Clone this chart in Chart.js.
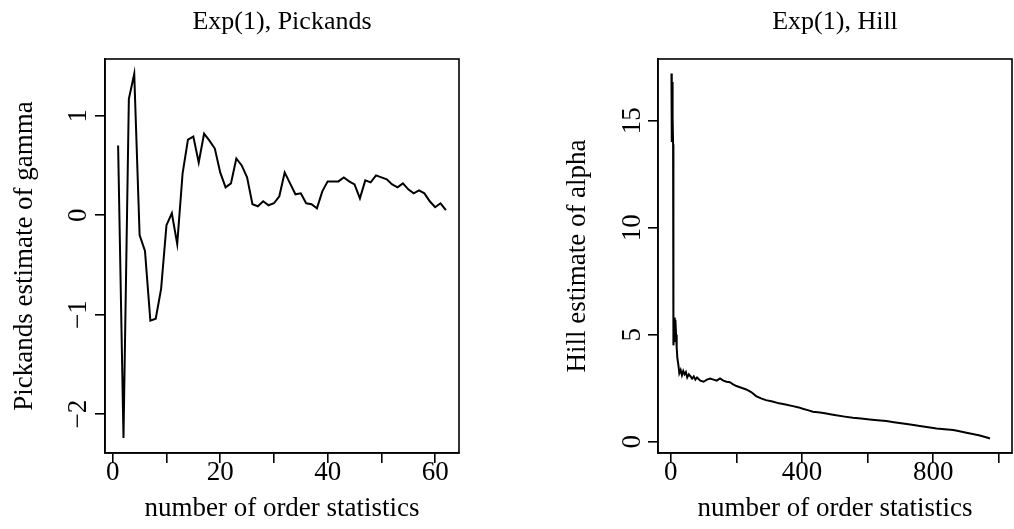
<!DOCTYPE html>
<html>
<head>
<meta charset="utf-8">
<script src="https://cdn.jsdelivr.net/npm/chart.js@4.4.1/dist/chart.umd.min.js"></script>
<style>
html, body { margin: 0; padding: 0; background: #fff; }
#wrap { position: relative; width: 1014px; height: 529px; }
.panel { position: absolute; top: 0; width: 507px; height: 529px; }
</style>
</head>
<body>
<div id="wrap">
  <div class="panel" style="left:0"><canvas id="canvas1" width="507" height="529"></canvas></div>
  <div class="panel" style="left:507px"><canvas id="canvas2" width="507" height="529"></canvas></div>
</div>
<script>
// Pickands estimates, k = number of order statistics
var pickK = [1,2,3,4,5,6,7,8,9,10,11,12,13,14,15,16,17,18,19,20,21,22,23,24,25,26,27,28,29,30,31,
             32,33,34,35,36,37,38,39,40,41,42,43,44,45,46,47,48,49,50,51,52,53,54,55,56,57,58,59,60,61,62];
var pickGamma = [0.70,-2.24,1.17,1.42,-0.20,-0.36,-1.06,-1.04,-0.74,-0.10,0.02,-0.29,0.42,0.76,0.79,0.53,
                 0.82,0.75,0.67,0.43,0.28,0.32,0.57,0.50,0.38,0.11,0.09,0.14,0.10,0.12,0.19,0.43,
                 0.32,0.21,0.22,0.12,0.11,0.07,0.24,0.34,0.34,0.34,0.38,0.34,0.31,0.17,0.35,0.33,
                 0.40,0.38,0.36,0.31,0.28,0.32,0.26,0.22,0.25,0.22,0.14,0.08,0.12,0.05];
var pickXTicks = [0,10,20,30,40,50,60];
var pickXLabels = [0,20,40,60];
var pickYTicks = [-2,-1,0,1];

// Hill estimates
var hillK = [2,3,4,5,6,7,8,10,12,13,14,16,18,20,23,26,30,34,38,42,46,50,55,60,65,70,75,80,90,100,
             110,120,130,140,150,160,170,180,190,200,215,230,245,260,275,290,310,330,350,372,390,402,
             420,433,455,474,490,504,530,555,580,606,630,657,680,708,735,759,785,810,835,861,880,901,
             920,942,958,973];
var hillAlpha = [17.2,14.0,16.8,14.3,15.2,13.9,4.5,5.0,5.8,4.7,5.7,5.0,4.4,3.9,3.6,3.2,3.35,3.1,3.3,3.15,
                 3.25,3.0,3.15,3.05,2.95,3.05,2.9,3.0,2.85,2.8,2.9,2.95,2.9,2.85,2.95,2.85,2.8,2.78,2.68,2.6,
                 2.52,2.44,2.32,2.13,2.02,1.94,1.88,1.79,1.74,1.66,1.6,1.54,1.46,1.40,1.36,1.32,1.27,1.23,
                 1.17,1.12,1.08,1.04,1.0,0.96,0.91,0.85,0.79,0.73,0.67,0.62,0.58,0.54,0.49,0.42,0.36,0.29,
                 0.22,0.15];
var hillXTicks = [0,200,400,600,800,1000];
var hillXLabels = [0,400,800];
var hillYTicks = [0,5,10,15];

var FONT = '"Liberation Serif", "DejaVu Serif", serif';
var font = {family: FONT, size: 27, lineHeight: 1};

function points(xs, ys) {
    return xs.map(function (x, i) { return {x: x, y: ys[i]}; });
}

function minus(v) {
    return v < 0 ? '\u2212' + Math.abs(v) : String(v);
}

// box round the plot region and main title, R style
var rFrame = {
    id: 'rFrame',
    afterDraw: function (chart, args, opts) {
        var a = chart.chartArea;
        var ctx = chart.ctx;
        ctx.save();
        ctx.strokeStyle = '#000';
        ctx.lineWidth = 1.6;
        ctx.strokeRect(a.left, a.top, a.right - a.left, a.bottom - a.top);
        ctx.fillStyle = '#000';
        ctx.font = '26px ' + FONT;
        ctx.textAlign = 'center';
        ctx.textBaseline = 'middle';
        ctx.fillText(opts.text, (a.left + a.right) / 2, opts.y);
        ctx.restore();
    }
};

function xScale(min, max, tickVals, labelVals) {
    return {
        type: 'linear', min: min, max: max,
        afterBuildTicks: function (s) { s.ticks = tickVals.map(function (v) { return {value: v}; }); },
        afterFit: function (s) { s.height = 76; },
        grid: {drawOnChartArea: false, tickLength: 10, color: '#000', lineWidth: 1.6},
        border: {color: '#000', width: 1.6},
        ticks: {font: font, color: '#000', padding: -4, maxRotation: 0, autoSkip: false,
                callback: function (v) { return labelVals.indexOf(v) >= 0 ? String(v) : ''; }},
        title: {display: true, text: 'number of order statistics', font: font, color: '#000',
                padding: {top: 0, bottom: 7}}
    };
}

function yScale(min, max, tickVals, width, title, titlePad) {
    return {
        type: 'linear', min: min, max: max,
        afterBuildTicks: function (s) { s.ticks = tickVals.map(function (v) { return {value: v}; }); },
        afterFit: function (s) { s.width = width; },
        grid: {drawOnChartArea: false, tickLength: 10, color: '#000', lineWidth: 1.6},
        border: {color: '#000', width: 1.6},
        ticks: {font: font, color: '#000', padding: 2, minRotation: 90, maxRotation: 90,
                crossAlign: 'center', autoSkip: false, callback: minus},
        title: {display: true, text: title, font: font, color: '#000',
                padding: {top: titlePad, bottom: 0}}
    };
}

var myChart1 = new Chart(document.getElementById('canvas1'), {
    type: 'line',
    data: {
        datasets: [{
            data: points(pickK, pickGamma),
            borderColor: '#000', borderWidth: 2, pointRadius: 0, tension: 0, fill: false
        }]
    },
    options: {
        responsive: false, animation: false, devicePixelRatio: 1,
        layout: {padding: {top: 59, right: 48, bottom: 0, left: 0}},
        plugins: {legend: {display: false}, tooltip: {enabled: false},
                  rFrame: {text: 'Exp(1), Pickands', y: 22}},
        scales: {
            x: xScale(-1.44, 64.44, pickXTicks, pickXLabels),
            y: yScale(-2.39, 1.57, pickYTicks, 105, 'Pickands estimate of gamma', 11)
        }
    },
    plugins: [rFrame]
});

var myChart2 = new Chart(document.getElementById('canvas2'), {
    type: 'line',
    data: {
        datasets: [{
            data: points(hillK, hillAlpha),
            borderColor: '#000', borderWidth: 2, pointRadius: 0, tension: 0, fill: false
        }]
    },
    options: {
        responsive: false, animation: false, devicePixelRatio: 1,
        layout: {padding: {top: 59, right: 2, bottom: 0, left: 0}},
        plugins: {legend: {display: false}, tooltip: {enabled: false},
                  rFrame: {text: 'Exp(1), Hill', y: 22}},
        scales: {
            x: xScale(-39, 1040, hillXTicks, hillXLabels),
            y: yScale(-0.53, 17.88, hillYTicks, 151, 'Hill estimate of alpha', 57)
        }
    },
    plugins: [rFrame]
});
</script>
</body>
</html>
